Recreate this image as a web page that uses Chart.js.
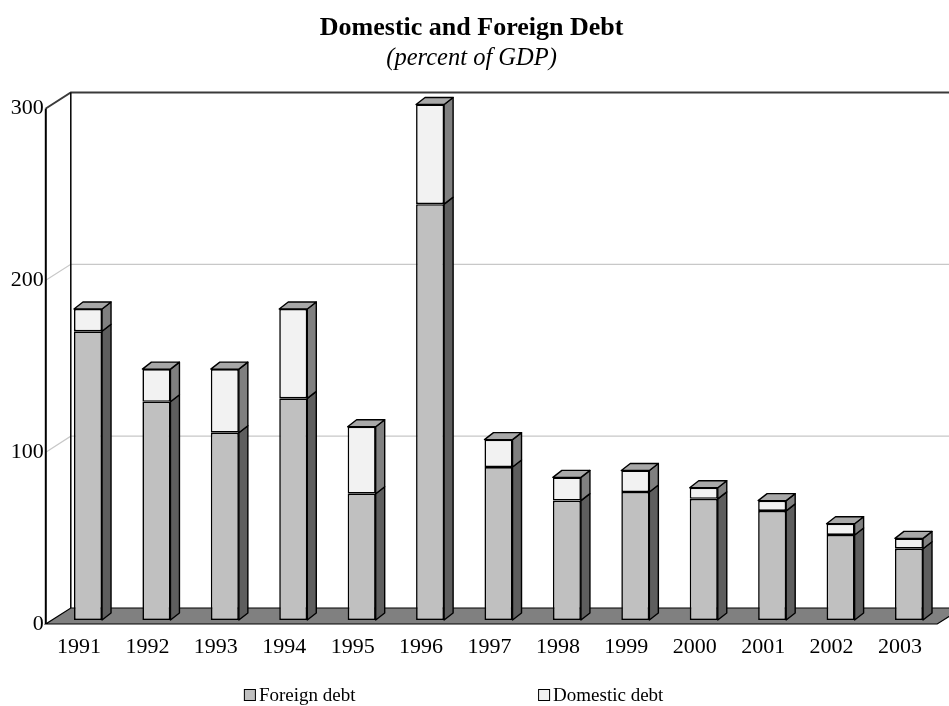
<!DOCTYPE html>
<html>
<head>
<meta charset="utf-8">
<title>Domestic and Foreign Debt</title>
<script src="https://cdn.jsdelivr.net/npm/chart.js@4/dist/chart.umd.min.js"></script>
<style>
    html, body { margin: 0; padding: 0; background: #fff; }
    #wrap { width: 949px; height: 706px; }
</style>
</head>
<body>
<div id="wrap"><canvas id="debt-chart" width="949" height="706"></canvas></div>
<script>
'use strict';

// Debt stock, percent of GDP
const years = ['1991', '1992', '1993', '1994', '1995', '1996', '1997', '1998', '1999', '2000', '2001', '2002', '2003'];
const foreignDebt = [168, 127, 109, 129, 73.5, 242, 89, 69.5, 74.5, 70.5, 63.5, 49.5, 41.5];
const domesticDebt = [13, 19, 37, 52, 39, 58, 16, 13.5, 12.5, 6.5, 6, 6.5, 6];
const yTicks = [0, 100, 200, 300];

const SERIF = "'Liberation Serif', 'Times New Roman', serif";

// Offsets of the front edge, back wall and bar depth from the bar plane
const FRONT = { dx: -8, dy: 4 };
const BACK = { dx: 17, dy: -12 };
const BAR_DEPTH = { dx: 9, dy: -7 };

/**
 * Walls, floor, gridlines and the front value axis
 */
const frame3d = {
    id: 'frame3d',
    beforeDatasetsDraw(chart) {
        const ctx = chart.ctx;
        const ca = chart.chartArea;
        const yScale = chart.scales.y;
        const zero = yScale.getPixelForValue(yScale.min);
        const top = yScale.getPixelForValue(yScale.max);
        const frontX = ca.left + FRONT.dx;
        const backX = ca.left + BACK.dx;

        ctx.save();

        // gridlines across the back wall and down the left wall
        yScale.ticks.forEach(t => {
            if (t.value === yScale.min || t.value === yScale.max) return;
            const py = yScale.getPixelForValue(t.value);
            ctx.strokeStyle = '#c8c8c8';
            ctx.lineWidth = 1.2;
            ctx.beginPath();
            ctx.moveTo(frontX, py + FRONT.dy);
            ctx.lineTo(backX, py + BACK.dy);
            ctx.lineTo(chart.width + 20, py + BACK.dy);
            ctx.stroke();
        });

        // top edge of the walls
        ctx.strokeStyle = '#3a3a3a';
        ctx.lineWidth = 2;
        ctx.beginPath();
        ctx.moveTo(frontX, top + FRONT.dy);
        ctx.lineTo(backX, top + BACK.dy);
        ctx.lineTo(chart.width + 20, top + BACK.dy);
        ctx.stroke();

        // back corner
        ctx.strokeStyle = '#000';
        ctx.lineWidth = 1.5;
        ctx.beginPath();
        ctx.moveTo(backX, top + BACK.dy);
        ctx.lineTo(backX, zero + BACK.dy);
        ctx.stroke();

        // floor
        ctx.fillStyle = '#808080';
        ctx.strokeStyle = '#000';
        ctx.lineWidth = 1.2;
        ctx.beginPath();
        ctx.moveTo(frontX, zero + FRONT.dy);
        ctx.lineTo(ca.right + FRONT.dx + 2, zero + FRONT.dy);
        ctx.lineTo(ca.right + BACK.dx + 2, zero + BACK.dy);
        ctx.lineTo(backX, zero + BACK.dy);
        ctx.closePath();
        ctx.fill();
        ctx.stroke();

        // front value axis
        ctx.lineWidth = 2;
        ctx.beginPath();
        ctx.moveTo(frontX, top + FRONT.dy);
        ctx.lineTo(frontX, zero + FRONT.dy);
        ctx.stroke();

        ctx.restore();
    }
};

/**
 * Side and top faces for every bar segment
 */
const bars3d = {
    id: 'bars3d',
    afterDatasetsDraw(chart) {
        const ctx = chart.ctx;
        const lastIndex = chart.data.datasets.length - 1;

        ctx.save();
        ctx.strokeStyle = '#000';
        ctx.lineWidth = 1.4;
        ctx.lineJoin = 'round';

        chart.data.datasets.forEach((ds, d) => {
            const meta = chart.getDatasetMeta(d);
            meta.data.forEach(el => {
                const left = el.x - el.width / 2;
                const right = el.x + el.width / 2;
                const top = Math.min(el.y, el.base);
                const bottom = Math.max(el.y, el.base);

                ctx.fillStyle = ds.sideColor;
                ctx.beginPath();
                ctx.moveTo(right, bottom);
                ctx.lineTo(right + BAR_DEPTH.dx, bottom + BAR_DEPTH.dy);
                ctx.lineTo(right + BAR_DEPTH.dx, top + BAR_DEPTH.dy);
                ctx.lineTo(right, top);
                ctx.closePath();
                ctx.fill();
                ctx.stroke();

                if (d === lastIndex) {
                    ctx.fillStyle = '#a8a8a8';
                    ctx.beginPath();
                    ctx.moveTo(left, top);
                    ctx.lineTo(left + BAR_DEPTH.dx, top + BAR_DEPTH.dy);
                    ctx.lineTo(right + BAR_DEPTH.dx, top + BAR_DEPTH.dy);
                    ctx.lineTo(right, top);
                    ctx.closePath();
                    ctx.fill();
                    ctx.stroke();
                }
            });
        });

        ctx.restore();
    }
};

/**
 * Legend row under the category axis
 */
const legendRow = {
    id: 'legendRow',
    afterDraw(chart) {
        const ctx = chart.ctx;
        const slots = [0.257, 0.567];
        const cy = chart.height - 11;
        const box = 12;

        ctx.save();
        ctx.font = '19px ' + SERIF;
        ctx.textBaseline = 'middle';
        ctx.textAlign = 'left';
        chart.data.datasets.forEach((ds, i) => {
            const x = chart.width * slots[i];
            ctx.fillStyle = ds.backgroundColor;
            ctx.fillRect(x, cy - box / 2, box, box);
            ctx.strokeStyle = '#000';
            ctx.lineWidth = 1;
            ctx.strokeRect(x + 0.5, cy - box / 2 + 0.5, box - 1, box - 1);
            ctx.fillStyle = '#000';
            ctx.fillText(ds.label, x + box + 3, cy + 1);
        });
        ctx.restore();
    }
};

const ctx = document.getElementById('debt-chart').getContext('2d');

new Chart(ctx, {
    type: 'bar',
    data: {
        labels: years,
        datasets: [{
            label: 'Foreign debt',
            data: foreignDebt,
            backgroundColor: '#c0c0c0',
            sideColor: '#5e5e5e',
            borderColor: '#000',
            borderWidth: 1.6,
            borderSkipped: false,
            clip: false
        }, {
            label: 'Domestic debt',
            data: domesticDebt,
            backgroundColor: '#f2f2f2',
            sideColor: '#808080',
            borderColor: '#000',
            borderWidth: 1.6,
            borderSkipped: false,
            clip: false
        }]
    },
    options: {
        responsive: false,
        devicePixelRatio: 1,
        animation: false,
        datasets: {
            bar: {
                barPercentage: 0.41,
                categoryPercentage: 1
            }
        },
        layout: {
            padding: { left: 0, right: 5.8, top: 0, bottom: 40 }
        },
        plugins: {
            legend: { display: false },
            tooltip: { enabled: false },
            title: {
                display: true,
                text: 'Domestic and Foreign Debt',
                color: '#000',
                font: { family: SERIF, size: 26, weight: 'bold' },
                padding: { top: 12.4, bottom: 0 }
            },
            subtitle: {
                display: true,
                text: '(percent of GDP)',
                color: '#000',
                font: { family: SERIF, size: 24.5, style: 'italic' },
                padding: { top: 0, bottom: 31.5 }
            }
        },
        scales: {
            x: {
                stacked: true,
                grid: { display: false, drawTicks: false },
                border: { display: false },
                ticks: {
                    color: '#000',
                    font: { family: SERIF, size: 22 },
                    padding: 14,
                    labelOffset: -9,
                    maxRotation: 0,
                    autoSkip: false
                },
                afterFit(scale) {
                    scale.height = 46;
                }
            },
            y: {
                stacked: true,
                min: yTicks[0],
                max: yTicks[yTicks.length - 1],
                grid: { display: false, drawTicks: false },
                border: { display: false },
                afterBuildTicks(scale) {
                    scale.ticks = yTicks.map(v => ({ value: v }));
                },
                ticks: {
                    color: '#000',
                    font: { family: SERIF, size: 22 },
                    padding: 10,
                    labelOffset: 4
                },
                afterFit(scale) {
                    scale.width = 53.8;
                }
            }
        }
    },
    plugins: [frame3d, bars3d, legendRow]
});
</script>
</body>
</html>
